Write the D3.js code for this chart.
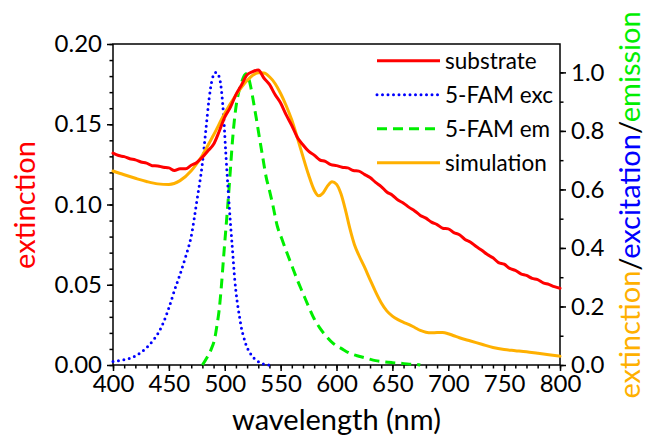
<!DOCTYPE html>
<meta charset="utf-8">
<script src="https://cdn.jsdelivr.net/npm/d3@7"></script>
<style>
  body { margin: 0; background: #fff; }
  text { font-family: Lato, "Open Sans", sans-serif; }
</style>
<div id="chart"></div>
<script>

// wavelength (nm) and values
var subNm = [400,405,410,415,420,425,430,435,440,445,450,455,460,465,470,475,480,485,490,495,
  500,505,510,515,520,525,530,535,540,545,550,555,560,565,570,575,580,585,590,595,
  600,605,610,615,620,625,630,635,640,645,650,655,660,665,670,675,680,685,690,695,
  700,705,710,715,720,725,730,735,740,745,750,755,760,765,770,775,780,785,790,795,800];
var subVal = [0.132,0.1305,0.1298,0.1285,0.1278,0.1265,0.1258,0.1242,0.1240,0.1232,0.1228,0.1212,0.1222,0.1222,0.1245,0.1262,0.1295,0.1335,0.1375,0.1455,
  0.1545,0.1605,0.1685,0.1745,0.1808,0.1828,0.1838,0.1788,0.1748,0.1685,0.1632,0.1558,0.1492,0.1418,0.1372,0.1332,0.1308,0.1278,0.1268,0.1248,
  0.1242,0.1232,0.1228,0.1212,0.1208,0.1188,0.1168,0.1138,0.1112,0.1078,0.1058,0.1028,0.1008,0.0982,0.0960,0.0932,0.0915,0.0890,0.0875,0.0852,
  0.0848,0.0825,0.0812,0.0782,0.0765,0.0738,0.0715,0.0688,0.0668,0.0638,0.0628,0.0602,0.0590,0.0568,0.0558,0.0540,0.0532,0.0512,0.0502,0.0488,0.0478];

var excNm = [400,405,410,415,420,425,430,435,440,445,450,455,460,465,470,475,480,483,486,489,492,495,497,499,
  501,503,505,507,509,511,513,515,517,519,521,524,528,532,536,540];
var excVal = [0.012,0.015,0.018,0.023,0.031,0.043,0.059,0.080,0.106,0.144,0.195,0.255,0.310,0.370,0.440,0.560,0.690,0.800,0.910,0.980,1.000,0.985,0.940,0.850,
  0.720,0.600,0.490,0.390,0.290,0.220,0.170,0.125,0.095,0.070,0.052,0.033,0.017,0.007,0.002,0.0];

var emNm = [480,484,488,491,493,495,497,499,501,503,505,507,509,511,513,515,517,519,521,523,525,528,531,534,537,
  540,543,547,551,555,560,565,570,575,580,585,590,597,605,612,620,627,635,642,650,657,665,672,675];
var emVal = [0.0,0.025,0.055,0.090,0.135,0.188,0.270,0.370,0.465,0.560,0.665,0.770,0.850,0.905,0.940,0.965,0.985,0.995,0.985,0.955,0.915,0.848,0.778,0.710,0.643,
  0.597,0.547,0.475,0.432,0.390,0.340,0.290,0.245,0.200,0.158,0.127,0.102,0.074,0.055,0.040,0.030,0.023,0.015,0.011,0.008,0.006,0.003,0.002,0.0];

var simNm = [400,410,420,430,440,450,460,470,480,490,500,510,520,525,530,535,540,545,550,555,560,565,570,575,580,
  584,588,592,596,600,604,608,612,616,620,625,630,635,640,645,650,655,660,665,670,675,680,685,690,695,
  700,705,710,720,730,740,750,760,770,780,790,800];
var simVal = [0.663,0.650,0.638,0.627,0.619,0.617,0.630,0.664,0.717,0.786,0.860,0.922,0.972,0.990,0.999,0.998,0.985,0.962,0.928,0.886,0.837,0.776,0.712,0.650,0.598,
  0.578,0.588,0.612,0.626,0.618,0.585,0.530,0.466,0.412,0.375,0.335,0.292,0.250,0.213,0.185,0.167,0.155,0.146,0.138,0.128,0.118,0.112,0.110,0.111,0.111,
  0.107,0.100,0.093,0.082,0.071,0.060,0.053,0.049,0.045,0.040,0.035,0.030];

var legendNames = ["substrate", "5-FAM exc", "5-FAM em", "simulation"];

var red = "#ff0000", blue = "#0000ff", green = "#00ee00", orange = "#ffb000";

var margin = {top: 44, right: 85, bottom: 75, left: 113},
    width = 645 - margin.left - margin.right,
    height = 440 - margin.top - margin.bottom;

var svg = d3.select("#chart")
  .append("svg")
    .attr("width", 645)
    .attr("height", 440)
  .append("g")
    .attr("transform", "translate(" + margin.left + "," + margin.top + ")");

var x = d3.scaleLinear().domain([400, 800]).range([0, width]);
var yL = d3.scaleLinear().domain([0, 0.2]).range([height, 0]);
var yR = d3.scaleLinear().domain([0, 1.097]).range([height, 0]);

// minor ticks first
svg.append("g")
  .attr("transform", "translate(0," + height + ")")
  .call(d3.axisBottom(x).tickValues(d3.range(400, 801, 10)).tickSize(3.5).tickFormat(""));
svg.append("g")
  .call(d3.axisLeft(yL).tickValues(d3.range(0, 0.2001, 0.01)).tickSize(3.5).tickFormat(""));
svg.append("g")
  .attr("transform", "translate(" + width + ",0)")
  .call(d3.axisRight(yR).tickValues(d3.range(0, 1.01, 0.1)).tickSize(3.5).tickFormat(""));

// major ticks
svg.append("g")
  .attr("transform", "translate(0," + height + ")")
  .call(d3.axisBottom(x).tickValues(d3.range(400, 801, 50)).tickSize(6).tickPadding(4));
svg.append("g")
  .call(d3.axisLeft(yL).tickValues([0, 0.05, 0.1, 0.15, 0.2]).tickSize(6).tickPadding(5).tickFormat(d3.format(".2f")));
svg.append("g")
  .attr("transform", "translate(" + width + ",0)")
  .call(d3.axisRight(yR).tickValues([0, 0.2, 0.4, 0.6, 0.8, 1.0]).tickSize(6).tickPadding(5).tickFormat(d3.format(".1f")));

svg.selectAll(".domain").remove();
svg.selectAll(".tick line").attr("stroke", "#000").attr("stroke-width", 1.5);
svg.selectAll(".tick text").attr("fill", "#000").style("font-size", "24px");

// frame
svg.append("rect")
  .attr("width", width).attr("height", height)
  .attr("fill", "none").attr("stroke", "#000").attr("stroke-width", 1.5);

var plot = svg.append("g");

function drawLine(xs, vs, scale, color, dash, cap) {
  var pts = xs.map(function(d, i) { return [d, vs[i]]; });
  var line = d3.line()
    .x(function(d) { return x(d[0]); })
    .y(function(d) { return scale(d[1]); })
    .curve(d3.curveMonotoneX);
  plot.append("path")
    .datum(pts)
    .attr("d", line)
    .attr("fill", "none")
    .attr("stroke", color)
    .attr("stroke-width", 3)
    .attr("stroke-dasharray", dash)
    .attr("stroke-linecap", cap)
    .attr("stroke-linejoin", "round");
}

drawLine(emNm, emVal, yR, green, "10,6", "butt");
drawLine(excNm, excVal, yR, blue, "0,5.5", "round");
drawLine(simNm, simVal, yR, orange, null, "round");
drawLine(subNm, subVal, yL, red, null, "round");

// legend
var legStyles = [
  {color: red, dash: null, cap: "butt"},
  {color: blue, dash: "0,5.5", cap: "round"},
  {color: green, dash: "10,6", cap: "butt"},
  {color: orange, dash: null, cap: "butt"}
];
var leg = svg.selectAll(".leg")
  .data(legendNames)
  .enter().append("g")
    .attr("transform", function(d, i) { return "translate(" + (377 - margin.left) + "," + (60.7 - margin.top + i * 34) + ")"; });
leg.append("line")
  .attr("x1", 0).attr("x2", 63).attr("y1", 0).attr("y2", 0)
  .attr("stroke", function(d, i) { return legStyles[i].color; })
  .attr("stroke-width", 3)
  .attr("stroke-dasharray", function(d, i) { return legStyles[i].dash; })
  .attr("stroke-linecap", function(d, i) { return legStyles[i].cap; });
leg.append("text")
  .attr("x", 68).attr("y", 8)
  .style("font-size", "22.5px")
  .text(function(d) { return d; });

// axis titles
svg.append("text")
  .attr("x", width / 2).attr("y", 430 - margin.top)
  .attr("text-anchor", "middle")
  .style("font-size", "29px")
  .text("wavelength (nm)");

svg.append("text")
  .attr("transform", "translate(" + (35 - margin.left) + "," + (205 - margin.top) + ") rotate(-90)")
  .attr("text-anchor", "middle")
  .attr("fill", red)
  .style("font-size", "29px")
  .text("extinction");

var rt = svg.append("text")
  .attr("transform", "translate(" + (640 - margin.left) + "," + (205 - margin.top) + ") rotate(-90)")
  .attr("text-anchor", "middle")
  .style("font-size", "29px");
rt.append("tspan").attr("fill", orange).text("extinction");
rt.append("tspan").attr("fill", "#000").text("/");
rt.append("tspan").attr("fill", blue).text("excitation");
rt.append("tspan").attr("fill", "#000").text("/");
rt.append("tspan").attr("fill", green).text("emission");

</script>
